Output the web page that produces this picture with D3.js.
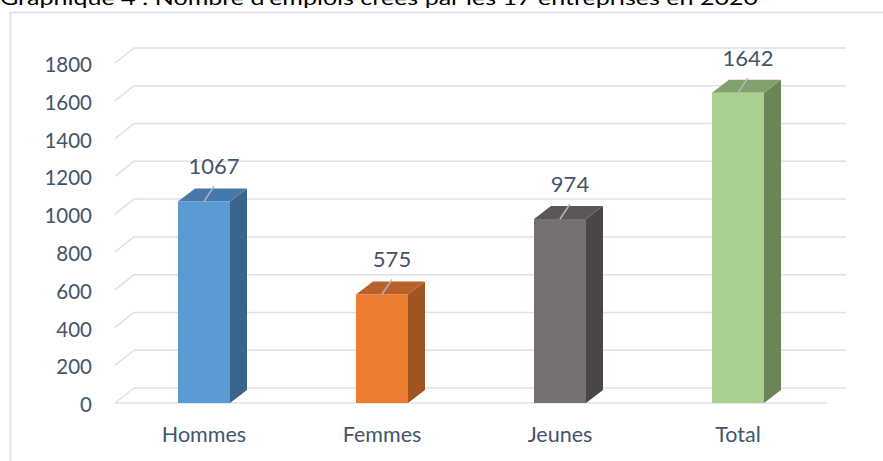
<!DOCTYPE html>
<html><head><meta charset="utf-8">
<script src="https://cdn.jsdelivr.net/npm/d3@7"></script>
<style>body{margin:0;background:#fff;}svg{display:block;}</style>
</head><body>
<script>
const title = "Graphique 4 : Nombre d'emplois créés par les 17 entreprises en 2020";
const categories = ["Hommes", "Femmes", "Jeunes", "Total"];
const values = [1067, 575, 974, 1642];
const tickValues = [0, 200, 400, 600, 800, 1000, 1200, 1400, 1600, 1800];
const frontColors = ["#5B9BD5", "#ED7D31", "#767171", "#A9D08E"];
const topColors = ["#4779A8", "#B8612A", "#5B5757", "#82A06C"];
const sideColors = ["#3B648C", "#A0541F", "#4A4646", "#6B8556"];

const W = 883, H = 461;
const svg = d3.select("body").append("svg").attr("width", W).attr("height", H);
const font = "Lato, 'Open Sans', sans-serif";
const textCol = "#44546A";

// title (cut off at top, as in the reference)
svg.append("text").attr("x", 0).attr("y", 5)
  .attr("font-family", font).attr("font-size", 19).attr("fill", "#000")
  .attr("textLength", 758).attr("lengthAdjust", "spacingAndGlyphs")
  .text(title);

// frame
svg.append("rect").attr("x", 10.5).attr("y", 12.5).attr("width", 900).attr("height", 500)
  .attr("fill", "none").attr("stroke", "#DCE1EA").attr("stroke-width", 1.75);

const y = d3.scaleLinear().domain([0, 1800]).range([403, 63]);
const x = d3.scaleBand().domain(categories).range([115, 827]).padding(0);
const gdx = 19, gdy = -15;   // grid depth
const bdx = 17, bdy = -13;   // bar depth
const gridCol = "#DDE1E8";

const g = svg.append("g");
tickValues.forEach(t => {
  const yy = y(t);
  g.append("line").attr("x1", 115).attr("y1", yy).attr("x2", 115 + gdx).attr("y2", yy + gdy)
    .attr("stroke", gridCol).attr("stroke-width", 1.5);
  g.append("line").attr("x1", 115 + gdx).attr("y1", yy + gdy).attr("x2", 846).attr("y2", yy + gdy)
    .attr("stroke", gridCol).attr("stroke-width", 1.5);
});
g.append("line").attr("x1", 115).attr("y1", y(0)).attr("x2", 827).attr("y2", y(0))
  .attr("stroke", gridCol).attr("stroke-width", 1.5);

// y tick labels via axis
const yAxis = d3.axisLeft(y).tickValues(tickValues).tickFormat(d3.format("d")).tickSize(0).tickPadding(0);
const ax = svg.append("g").attr("transform", "translate(92,2)").call(yAxis);
ax.select(".domain").remove();
ax.selectAll("text").attr("font-family", font).attr("font-size", 20.5).attr("fill", textCol);

// x labels
const xAxis = d3.axisBottom(x).tickSize(0).tickPadding(0);
const bx = svg.append("g").attr("transform", "translate(0,427)").call(xAxis);
bx.select(".domain").remove();
bx.selectAll("text").attr("font-family", font).attr("font-size", 21.5).attr("fill", textCol);

const bw = 52;
const y0 = y(0);
categories.forEach((c, i) => {
  const cx = x(c) + x.bandwidth() / 2;
  const x0 = cx - bw / 2, x1 = cx + bw / 2;
  const yt = y(values[i]);
  // side
  svg.append("polygon")
    .attr("points", [[x1, yt], [x1 + bdx, yt + bdy], [x1 + bdx, y0 + bdy], [x1, y0]].map(p => p.join(",")).join(" "))
    .attr("fill", sideColors[i]);
  // top
  svg.append("polygon")
    .attr("points", [[x0, yt], [x0 + bdx, yt + bdy], [x1 + bdx, yt + bdy], [x1, yt]].map(p => p.join(",")).join(" "))
    .attr("fill", topColors[i]);
  // front
  svg.append("rect").attr("x", x0).attr("y", yt).attr("width", bw).attr("height", y0 - yt)
    .attr("fill", frontColors[i]);
  // leader line
  svg.append("line").attr("x1", cx).attr("y1", yt).attr("x2", cx + 10).attr("y2", yt - 15)
    .attr("stroke", "#ADB9CA").attr("stroke-width", 1.5);
  // label
  svg.append("text").attr("x", cx + 10).attr("y", yt - 27).attr("text-anchor", "middle")
    .attr("font-family", font).attr("font-size", 22).attr("fill", textCol)
    .text(values[i]);
});
</script>
</body></html>
